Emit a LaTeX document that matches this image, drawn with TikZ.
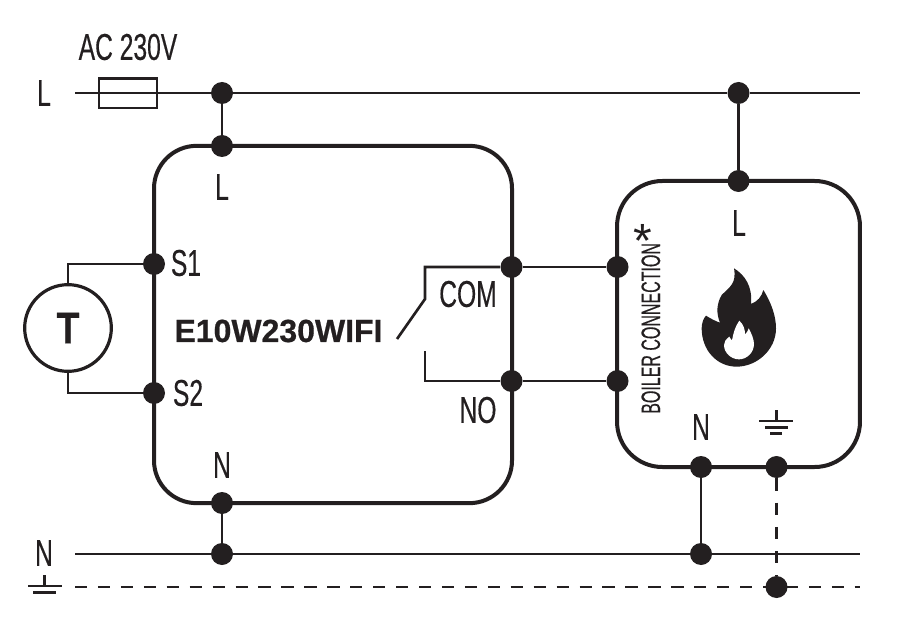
\documentclass[tikz,border=0pt]{standalone}
\usepackage{fontspec}
\setmainfont{Liberation Sans}
\newfontfamily\narrowfont[FakeStretch=0.66,FakeBold=0.35]{Liberation Sans}
\newfontfamily\tallfont[FakeStretch=0.6,FakeBold=0.3]{Liberation Sans}
\newfontfamily\capfont[FakeStretch=0.85,FakeBold=0.6]{Liberation Sans}
\newfontfamily\wideboldfont[FakeBold=0.6]{Liberation Sans}
\definecolor{ink}{HTML}{231F20}
\tikzset{
  wire/.style={draw=ink,line width=2pt},
  boxline/.style={draw=ink,line width=3pt,rounded corners=32pt,inner sep=0pt,fill=none},
  dot/.style={circle,fill=ink,inner sep=0pt,minimum size=16.5pt},
  lab/.style={text=ink,inner sep=0pt,font=\narrowfont\fontsize{28}{28}\selectfont},
  dashwire/.style={wire,dash pattern=on 9.2pt off 8pt},
}
\begin{document}
\begin{tikzpicture}[x=0.75pt,y=-0.75pt]
\useasboundingbox (0,0) rectangle (899,627);
% boxes
\node[boxline,minimum width=268.5pt,minimum height=268pt] (main) at (333,324.5) {};
\node[boxline,minimum width=182.2pt,minimum height=214.5pt,rounded corners=34pt] (boiler) at (738.5,324) {};
% junctions
\node[dot] (d1) at (222,93) {};
\node[dot] (d2) at (222,146) {};
\node[dot] (d3) at (738.5,93) {};
\node[dot] (d4) at (738.5,181) {};
\node[dot] (s1) at (154,264) {};
\node[dot] (s2) at (154,393) {};
\node[dot] (com) at (511.5,267) {};
\node[dot] (no) at (511.5,381) {};
\node[dot] (b1) at (617.5,267) {};
\node[dot] (b2) at (617.5,381) {};
\node[dot] (n1) at (222,503) {};
\node[dot] (n2) at (222,554) {};
\node[dot] (n3) at (701,467) {};
\node[dot] (n4) at (701,554) {};
\node[dot] (e1) at (776.5,467) {};
\node[dot] (e2) at (776.5,587) {};
% free ends
\coordinate (lL) at (75,93);
\coordinate (lR) at (860,93);
\coordinate (nL) at (75,554);
\coordinate (nR) at (860,554);
\coordinate (gL) at (75,587);
\coordinate (gR) at (860,587);
\coordinate (swA) at (425,267);
\coordinate (swB) at (425,299);
\coordinate (swC) at (397,339);
\coordinate (swD) at (425,351);
\coordinate (swE) at (425,381);
% T sensor
\node[circle,draw=ink,line width=2.4pt,minimum size=65pt,inner sep=0pt,text=ink,font=\capfont\bfseries\fontsize{33}{33}\selectfont] (T) at (68,328) {T};
% wires
\draw[wire] (lL) -- (d1) -- (d3) -- (lR);
\draw[wire] (nL) -- (n2) -- (n4) -- (nR);
\draw[wire] (d1) -- (d2);
\draw[wire] (d3) -- (d4);
\draw[wire] (n1) -- (n2);
\draw[wire] (n3) -- (n4);
\draw[wire] (T.north) |- (s1);
\draw[wire] (T.south) |- (s2);
\draw[wire] (com) -- (b1);
\draw[wire] (no) -- (b2);
\draw[wire] (com) -- (swA) -- (swB) -- (swC);
\draw[wire] (no) -- (swE) -- (swD);
\draw[dashwire] (gL) -- (gR);
\draw[dashwire,dash pattern=on 9.2pt off 9pt] (e1) -- (e2);
% fuse
\node[draw=ink,line width=2pt,minimum width=43.5pt,minimum height=22pt,inner sep=0pt] (fuse) at (128,93.5) {};
% left ground
\draw[wire] (44.5,575) -- (44.5,586);
\draw[wire] (28,586) -- (62,586);
\draw[wire] (33,592.5) -- (56,592.5);
% boiler ground
\draw[wire] (776.5,410) -- (776.5,421);
\draw[wire] (759,421) -- (793,421);
\draw[wire] (765,427.5) -- (788,427.5);
\draw[wire] (770,433.5) -- (782,433.5);
% labels
\node[lab] (tAC) at (128,47) {AC 230V};
\node[lab] (tL0) at (44,93) {L};
\node[lab] (tN0) at (44,553) {N};
\node[lab] (tL1) at (222,187) {L};
\node[lab] (tS1) at (186,263) {S1};
\node[lab] (tS2) at (188,393) {S2};
\node[lab] (tCOM) at (468,294) {COM};
\node[lab] (tNO) at (478,410) {NO};
\node[lab] (tN1) at (222,465) {N};
\node[lab] (tL2) at (739,223) {L};
\node[lab] (tN2) at (701,427) {N};
\node[text=ink,inner sep=0pt,font=\wideboldfont\bfseries\fontsize{24}{24}\selectfont] (tE) at (278.5,331) {E10W230WIFI};
\node[text=ink,inner sep=0pt,rotate=90,anchor=base west,font=\tallfont\fontsize{20}{20}\selectfont] (tB) at (660,414) {BOILER CONNECTION};
\node[text=ink,inner sep=0pt,font=\fontsize{36}{36}\selectfont,anchor=center] (tStar) at (643,240.5) {*};
% flame
\begin{scope}[shift={(620,200)},x=0.25pt,y=-0.25pt]
\fill[ink] (342,205) .. controls (375,225) and (398,260) .. (393,312)
  .. controls (412,305) and (425,290) .. (430,270)
  .. controls (455,310) and (468,350) .. (468,385)
  .. controls (468,450) and (410,500) .. (350,500)
  .. controls (290,500) and (245,450) .. (245,385)
  .. controls (245,370) and (250,355) .. (258,347)
  .. controls (270,355) and (290,365) .. (300,368)
  .. controls (288,340) and (290,310) .. (305,285)
  .. controls (330,260) and (350,250) .. (342,205) -- cycle;
\fill[white] (358,362) .. controls (372,375) and (375,390) .. (375,403)
  .. controls (380,398) and (385,392) .. (386,385)
  .. controls (395,400) and (402,420) .. (402,432)
  .. controls (402,458) and (380,478) .. (357,478)
  .. controls (333,478) and (312,458) .. (312,435)
  .. controls (312,425) and (318,418) .. (328,410)
  .. controls (331,415) and (333,419) .. (336,421)
  .. controls (340,400) and (345,380) .. (358,362) -- cycle;
\end{scope}
\end{tikzpicture}
\end{document}
